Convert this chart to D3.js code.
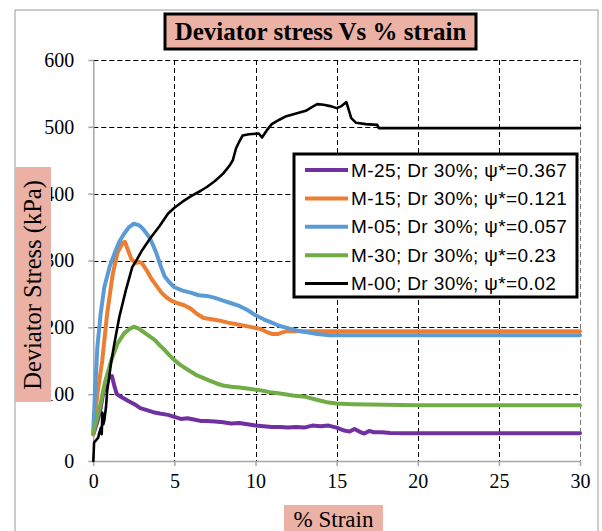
<!DOCTYPE html>
<html>
<head>
<meta charset="utf-8">
<script src="https://cdn.jsdelivr.net/npm/d3@7"></script>
<style>
  html, body { margin: 0; padding: 0; background: #fff; }
  svg { display: block; }
</style>
</head>
<body>
<svg id="chart" width="602" height="531"></svg>
<script>
// Deviator stress (kPa) against axial strain (%) for five samples
const m25 = [[0,40],[0.2,55],[0.4,72],[0.6,100],[0.8,118],[1.0,126],[1.15,127],[1.3,112],[1.45,100],[1.7,96],[2.0,92],[2.3,88],[2.6,84],[2.9,79],[3.3,76],[3.7,73],[4.1,71],[4.6,69],[5.0,66],[5.4,63],[5.8,64],[6.2,62],[6.6,60],[7.0,60],[7.5,59],[8.0,58],[8.5,56],[9.0,57],[9.5,55],[10.0,53],[10.5,52],[11.0,51],[11.5,51],[12.0,50],[12.5,51],[13.0,50],[13.5,53],[14.0,52],[14.5,53],[15.0,50],[15.4,46],[15.8,44],[16.1,48],[16.4,44],[16.7,41],[17.0,45],[17.3,43],[17.8,43],[18.3,42],[19.3,41.5],[30,41.5]];
const m15 = [[0,40],[0.25,100],[0.55,150],[0.85,220],[1.2,280],[1.5,312],[1.8,326],[1.95,328],[2.1,318],[2.35,302],[2.6,296],[2.8,298],[3.0,296],[3.3,285],[3.6,272],[3.9,262],[4.2,252],[4.5,245],[4.8,240],[5.2,236],[5.6,233],[6.0,228],[6.4,220],[6.8,214],[7.3,212],[7.8,210],[8.3,207],[9.0,204],[9.6,201],[10.25,198],[10.7,193],[11.05,190],[11.4,190],[11.6,192],[11.9,194],[30,194]];
const m05 = [[0,46],[0.1,100],[0.25,170],[0.45,220],[0.68,260],[1.0,290],[1.3,310],[1.6,328],[1.9,340],[2.2,350],[2.5,355],[2.8,353],[3.0,349],[3.3,340],[3.5,333],[3.7,322],[3.9,310],[4.15,292],[4.4,276],[4.7,267],[5.0,260],[5.5,255],[6.0,252],[6.5,248],[7.0,247],[7.5,244],[8.0,240],[8.5,236],[9.0,232],[9.5,226],[10.0,218],[10.5,212],[11.0,207],[11.5,202],[12.1,198],[12.6,195],[13.1,193],[13.8,190],[14.6,188],[30,188]];
const m30 = [[0,42],[0.4,80],[0.7,116],[1.1,150],[1.5,176],[1.9,191],[2.2,197],[2.5,201],[2.8,198],[3.1,193],[3.5,186],[3.8,181],[4.1,173],[4.4,166],[4.7,158],[5.0,151],[5.3,145],[5.6,140],[6.0,134],[6.4,128],[6.8,124],[7.2,120],[7.6,116],[8.0,113],[8.5,111],[9.0,110],[9.6,108],[10.25,106],[10.9,103],[11.5,101],[12.3,98],[13.1,96],[13.7,92],[14.4,88],[15.0,86],[16.0,85],[17.0,84.5],[18.0,84],[20,83.5],[30,83.5]];
const m00 = [[0,0],[0.05,28],[0.17,31],[0.3,35],[0.37,42],[0.47,50],[0.52,40],[0.56,72],[0.62,55],[0.68,61],[0.78,80],[0.86,106],[0.95,120],[1.09,146],[1.3,176],[1.6,215],[2.0,255],[2.4,290],[2.7,302],[3.0,315],[3.5,333],[4.1,352],[4.6,370],[5.0,379],[5.5,388],[6.0,396],[6.6,404],[7.0,410],[7.5,419],[8.0,430],[8.4,442],[8.6,450],[8.8,468],[9.0,478],[9.2,487],[9.6,489],[10.2,490],[10.4,484],[10.7,495],[11.0,504],[11.5,511],[11.9,516],[12.5,520],[13.1,524],[13.5,530],[13.8,534],[14.2,533],[14.6,531],[15.0,528],[15.3,531],[15.6,537],[15.75,525],[15.9,513],[16.2,506],[16.8,504],[17.5,503],[17.6,498],[30,498]];

const seriesNames = ["M-25; Dr 30%; ψ*=0.367", "M-15; Dr 30%; ψ*=0.121", "M-05; Dr 30%; ψ*=0.057", "M-30; Dr 30%; ψ*=0.23", "M-00; Dr 30%; ψ*=0.02"];
const seriesColors = ["#7030a0", "#ed7d31", "#5b9bd5", "#70ad47", "#000000"];
const seriesData = [m25, m15, m05, m30, m00];

const xTicks = [0, 5, 10, 15, 20, 25, 30];
const yTicks = [0, 100, 200, 300, 400, 500, 600];

const svg = d3.select("#chart");
const serif = "'Liberation Serif', 'Times New Roman', serif";
const sans = "'Liberation Sans', Arial, sans-serif";
const salmon = "#ebb1a4";

const x = d3.scaleLinear().domain([0, 30]).range([93.3, 580]);
const y = d3.scaleLinear().domain([0, 600]).range([461, 60]);

// outer chart frame
svg.append("rect").attr("x", 15).attr("y", 10).attr("width", 583).attr("height", 540)
  .attr("fill", "none").attr("stroke", "#9a9a9a").attr("stroke-width", 1);

// dashed grid
const grid = svg.append("g").attr("stroke", "#000").attr("stroke-width", 1).attr("stroke-dasharray", "5,3");
grid.selectAll(".gy").data(yTicks.filter(d => d > 0)).join("line")
  .attr("x1", x(0)).attr("x2", x(30)).attr("y1", d => Math.round(y(d)) + 0.5).attr("y2", d => Math.round(y(d)) + 0.5);
grid.selectAll(".gx").data(xTicks.filter(d => d > 0)).join("line")
  .attr("y1", y(600)).attr("y2", y(0)).attr("x1", d => Math.round(x(d)) + 0.5).attr("x2", d => Math.round(x(d)) + 0.5)
  .attr("stroke", d => d === 30 ? "#777" : "#000");

// axes
const xAxis = svg.append("g").attr("transform", `translate(0,${y(0)})`)
  .call(d3.axisBottom(x).tickValues(xTicks).tickSize(5).tickPadding(8).tickSizeOuter(0));
const yAxis = svg.append("g").attr("transform", `translate(${x(0)},0)`)
  .call(d3.axisLeft(y).tickValues(yTicks).tickSize(5).tickPadding(14).tickSizeOuter(0));
[xAxis, yAxis].forEach(a => {
  a.select(".domain").attr("stroke", "#a6a6a6").attr("stroke-width", 1.5);
  a.selectAll(".tick line").attr("stroke", "#a6a6a6").attr("stroke-width", 1.5);
  a.selectAll("text").attr("font-family", serif).attr("font-size", 20).attr("fill", "#000");
});

// data lines
const line = d3.line().x(d => x(d[0])).y(d => y(d[1])).curve(d3.curveLinear);
seriesData.forEach((s, i) => {
  svg.append("path").datum(s).attr("d", line)
    .attr("fill", "none").attr("stroke", seriesColors[i])
    .attr("stroke-width", i === 4 ? 2.6 : 4)
    .attr("stroke-linejoin", "round").attr("stroke-linecap", "round");
});

// legend
const lg = svg.append("g");
lg.append("rect").attr("x", 294).attr("y", 154).attr("width", 283).attr("height", 143)
  .attr("fill", "#fff").attr("stroke", "#000").attr("stroke-width", 3);
seriesNames.forEach((name, i) => {
  const cy = 170 + i * 28.4;
  lg.append("line").attr("x1", 305).attr("x2", 348).attr("y1", cy).attr("y2", cy)
    .attr("stroke", seriesColors[i]).attr("stroke-width", i === 4 ? 3 : 4);
  lg.append("text").attr("x", 351).attr("y", cy).attr("dy", "0.35em")
    .attr("font-family", sans).attr("font-size", 19).attr("letter-spacing", 0.4)
    .attr("fill", "#000").text(name);
});

// title
svg.append("rect").attr("x", 165).attr("y", 14).attr("width", 311).attr("height", 35)
  .attr("fill", salmon).attr("stroke", "#000").attr("stroke-width", 3);
svg.append("text").attr("x", 320.5).attr("y", 40).attr("text-anchor", "middle")
  .attr("font-family", serif).attr("font-weight", "bold").attr("font-size", 25).attr("fill", "#000")
  .text("Deviator stress Vs % strain");

// y axis title, its box laid over the leading digits of the tick labels
svg.append("rect").attr("x", 15).attr("y", 167).attr("width", 36).attr("height", 235).attr("fill", salmon);
svg.append("text").attr("transform", "translate(41,285) rotate(-90)").attr("text-anchor", "middle")
  .attr("font-family", serif).attr("font-size", 24.5).attr("fill", "#000")
  .text("Deviator Stress (kPa)");

// x axis title
svg.append("rect").attr("x", 284).attr("y", 505).attr("width", 99).attr("height", 30).attr("fill", salmon);
svg.append("text").attr("x", 333.5).attr("y", 527).attr("text-anchor", "middle")
  .attr("font-family", serif).attr("font-size", 23).attr("fill", "#000")
  .text("% Strain");
</script>
</body>
</html>
